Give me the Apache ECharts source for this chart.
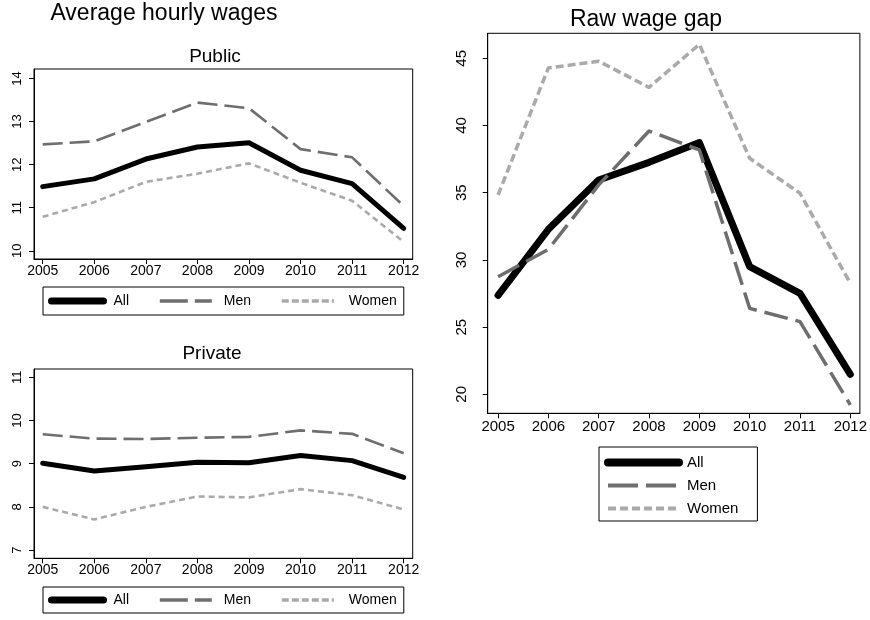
<!DOCTYPE html>
<html><head><meta charset="utf-8">
<script src="https://cdn.jsdelivr.net/npm/echarts@6/dist/echarts.min.js"></script>
<style>html,body{margin:0;padding:0;background:#fff}#c{width:870px;height:620px}</style>
</head><body><div id="c"></div>
<script>
const years = [2005, 2006, 2007, 2008, 2009, 2010, 2011, 2012];
const publicAll = [11.49, 11.67, 12.13, 12.41, 12.51, 11.87, 11.56, 10.52];
const publicMen = [12.47, 12.54, 12.99, 13.44, 13.31, 12.36, 12.17, 11.04];
const publicWomen = [10.79, 11.13, 11.60, 11.79, 12.03, 11.58, 11.16, 10.21];
const privateAll = [9.01, 8.83, 8.93, 9.03, 9.02, 9.19, 9.07, 8.68];
const privateMen = [9.68, 9.58, 9.57, 9.60, 9.62, 9.77, 9.69, 9.24];
const privateWomen = [8.00, 7.71, 8.00, 8.24, 8.22, 8.41, 8.27, 7.94];
const gapAll = [27.37, 32.28, 35.95, 37.26, 38.73, 29.50, 27.51, 21.49];
const gapMen = [28.75, 30.79, 35.58, 39.59, 38.18, 26.40, 25.41, 19.21];
const gapWomen = [34.83, 44.28, 44.78, 42.84, 46.04, 37.56, 34.96, 28.26];
const publicTicks = [10, 11, 12, 13, 14];
const privateTicks = [7, 8, 9, 10, 11];
const gapTicks = [20, 25, 30, 35, 40, 45];
const names = ['All', 'Men', 'Women'];
const titles = ['Average hourly wages', 'Public', 'Private', 'Raw wage gap'];

const FF = 'Liberation Sans, Arial, sans-serif';
const colors = {All: '#000000', Men: '#6e6e6e', Women: '#aaaaaa'};

function pairs(arr) { return years.map((y, i) => [y, arr[i]]); }

function xAx(gi, min, max, fs, margin) {
  return {
    type: 'value', gridIndex: gi, min: min, max: max,
    axisLine: {show: true, onZero: false, lineStyle: {color: '#000', width: 1}},
    axisTick: {show: true, customValues: years, length: 5, lineStyle: {color: '#000'}},
    axisLabel: {customValues: years, formatter: v => String(v), fontSize: fs, color: '#000', margin: margin, fontFamily: FF},
    splitLine: {show: false}
  };
}
function yAx(gi, min, max, ticks, fs, margin) {
  return {
    type: 'value', gridIndex: gi, min: min, max: max,
    axisLine: {show: true, onZero: false, lineStyle: {color: '#000', width: 1}},
    axisTick: {show: true, customValues: ticks, length: 5, lineStyle: {color: '#000'}},
    axisLabel: {customValues: ticks, formatter: v => String(v), rotate: 90, fontSize: fs, color: '#000', margin: margin, fontFamily: FF},
    splitLine: {show: false}
  };
}

function lineSeries(name, gi, data, width, dash) {
  return {
    type: 'line', name: name, xAxisIndex: gi, yAxisIndex: gi, data: pairs(data),
    symbol: 'none', silent: true, animation: false,
    lineStyle: {color: colors[name], width: width, type: dash, cap: name === 'All' ? 'round' : 'butt', join: 'round'},
    itemStyle: {color: colors[name]}
  };
}

const leftStyles = {All: [5, 'solid'], Men: [2.6, [20, 7]], Women: [2.6, [6, 4]]};
const rightStyles = {All: [7, 'solid'], Men: [3.5, [24, 8]], Women: [3.5, [8, 4]]};
const leftLegendStyles = {All: [7, 'solid'], Men: [3.5, [28, 7]], Women: [3.5, [7, 3]]};
const rightLegendStyles = {All: [8, 'solid'], Men: [4, [30, 8]], Women: [4, [8, 4]]};
const leftTextPad = {All: 5, Men: 7, Women: 10};
const rightTextPad = {All: 3, Men: 3, Women: 3};

function legendData(styles, pads, fs) {
  return names.map(n => ({
    name: n,
    lineStyle: {color: colors[n], width: styles[n][0], type: styles[n][1], cap: n === 'All' ? 'round' : 'butt'},
    itemStyle: {color: 'rgba(0,0,0,0)', borderWidth: 0, opacity: 0},
    textStyle: {fontFamily: FF, fontSize: fs, color: '#000', padding: [0, 0, 0, pads[n]]}
  }));
}

const series = [];
const leftData = [[publicAll, publicMen, publicWomen], [privateAll, privateMen, privateWomen]];
[0, 1].forEach(gi => {
  names.forEach((n, k) => series.push(lineSeries(n, gi, leftData[gi][k], leftStyles[n][0], leftStyles[n][1])));
});
const gapData = [gapAll, gapMen, gapWomen];
names.forEach((n, k) => series.push(lineSeries(n, 2, gapData[k], rightStyles[n][0], rightStyles[n][1])));

const legendCommon = {
  selectedMode: false, borderColor: '#000', borderWidth: 1, backgroundColor: '#fff',
  itemStyle: {opacity: 0}
};

const option = {
  backgroundColor: '#fff',
  animation: false,
  title: [
    {text: titles[0], left: 164, top: 2, textAlign: 'center', padding: 0, textStyle: {fontFamily: FF, fontSize: 23, fontWeight: 'normal', color: '#000'}},
    {text: titles[1], left: 215, top: 47, textAlign: 'center', padding: 0, textStyle: {fontFamily: FF, fontSize: 19, fontWeight: 'normal', color: '#000'}},
    {text: titles[2], left: 212, top: 344, textAlign: 'center', padding: 0, textStyle: {fontFamily: FF, fontSize: 19, fontWeight: 'normal', color: '#000'}},
    {text: titles[3], left: 646, top: 8, textAlign: 'center', padding: 0, textStyle: {fontFamily: FF, fontSize: 23, fontWeight: 'normal', color: '#000'}}
  ],
  grid: [
    {left: 34, top: 69, width: 378.7, height: 190, show: true, borderColor: '#000', borderWidth: 1, containLabel: false},
    {left: 34, top: 369, width: 378.7, height: 189.3, show: true, borderColor: '#000', borderWidth: 1, containLabel: false},
    {left: 487.7, top: 33.3, width: 381.3, height: 380, show: true, borderColor: '#000', borderWidth: 1, containLabel: false}
  ],
  xAxis: [
    xAx(0, 2004.831, 2012.175, 14, 5),
    xAx(1, 2004.831, 2012.175, 14, 5),
    xAx(2, 2004.794, 2012.19, 15, 6)
  ],
  yAxis: [
    yAx(0, 9.81, 14.22, publicTicks, 13, 10),
    yAx(1, 6.81, 11.19, privateTicks, 13, 10),
    yAx(2, 18.59, 46.86, gapTicks, 15, 18)
  ],
  legend: [
    Object.assign({}, legendCommon, {
      left: 43, top: 287, orient: 'horizontal', padding: [7, 7, 7, 5],
      itemWidth: 52, itemHeight: 14, itemGap: 29,
      textStyle: {fontFamily: FF, fontSize: 14, color: '#000'},
      data: legendData(leftLegendStyles, leftTextPad, 14)
    }),
    Object.assign({}, legendCommon, {
      left: 43, top: 587, orient: 'horizontal', padding: [6, 7, 6, 5],
      itemWidth: 52, itemHeight: 14, itemGap: 29,
      textStyle: {fontFamily: FF, fontSize: 14, color: '#000'},
      data: legendData(leftLegendStyles, leftTextPad, 14)
    }),
    Object.assign({}, legendCommon, {
      left: 599, top: 447, orient: 'vertical', padding: [8, 19, 5, 5],
      itemWidth: 71, itemHeight: 15, itemGap: 8,
      textStyle: {fontFamily: FF, fontSize: 15, color: '#000'},
      data: legendData(rightLegendStyles, rightTextPad, 15)
    })
  ],
  series: series
};

const chart = echarts.init(document.getElementById('c'), null, {renderer: 'canvas'});
chart.setOption(option);
</script>
</body></html>
